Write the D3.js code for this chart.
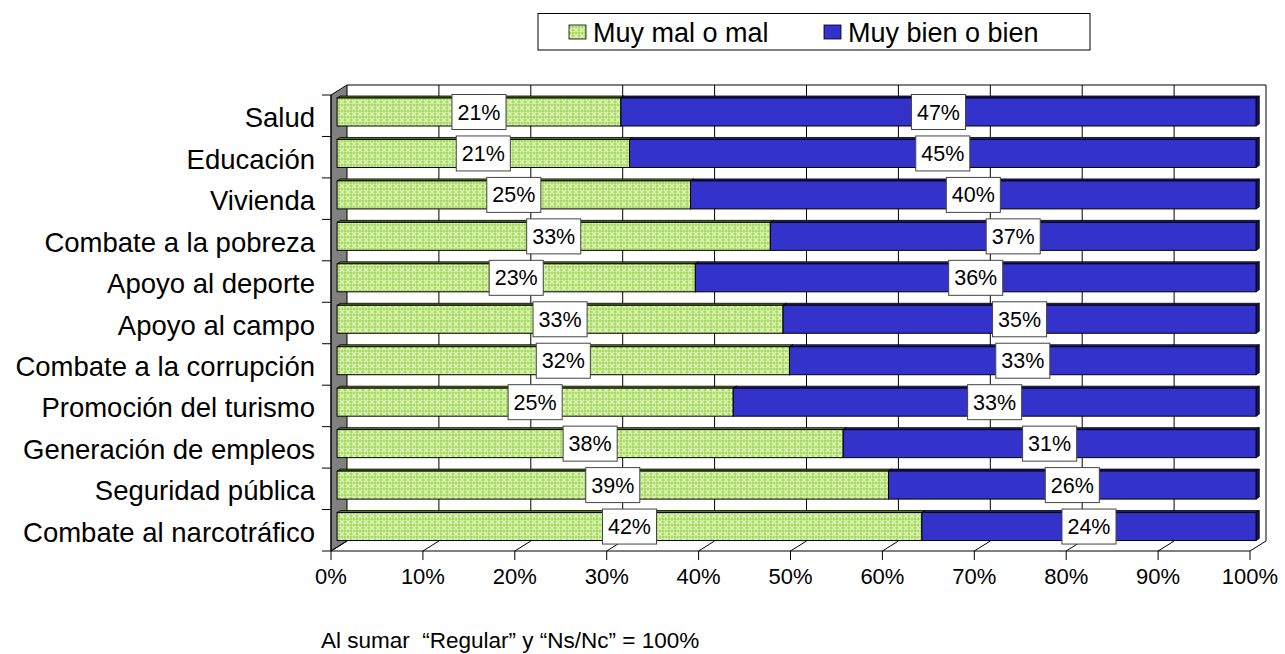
<!DOCTYPE html>
<html><head><meta charset="utf-8">
<script src="https://cdn.jsdelivr.net/npm/d3@7"></script>
<style>
html,body{margin:0;padding:0;background:#fff;}
text{font-family:"Liberation Sans",Arial,sans-serif;fill:#000;}
</style></head>
<body><svg id="c" width="1285" height="654"></svg>
<script>
const categories = ["Salud","Educación","Vivienda","Combate a la pobreza","Apoyo al deporte","Apoyo al campo","Combate a la corrupción","Promoción del turismo","Generación de empleos","Seguridad pública","Combate al narcotráfico"];
const muyMal = [21,21,25,33,23,33,32,25,38,39,42];
const muyBien = [47,45,40,37,36,35,33,33,31,26,24];
const seriesNames = ["Muy mal o mal","Muy bien o bien"];
const xTicks = [0,0.1,0.2,0.3,0.4,0.5,0.6,0.7,0.8,0.9,1];
const note = "Al sumar  “Regular” y “Ns/Nc” = 100%";

const svg = d3.select("#c");
const defs = svg.append("defs");
const pat = defs.append("pattern").attr("id","hatch").attr("patternUnits","userSpaceOnUse").attr("width",6).attr("height",6);
pat.append("rect").attr("width",6).attr("height",6).attr("fill","#abdc5e");
pat.append("path").attr("d","M0,0L6,6M6,0L0,6").attr("stroke","#dff8c6").attr("stroke-width",1.3);
pat.append("circle").attr("cx",3).attr("cy",3).attr("r",0.9).attr("fill","#92c840");

const x = d3.scaleLinear().domain([0,1]).range([331,1250]);
const y = d3.scaleBand().domain(categories).range([95,551]);
const DX = 16, DY = -10;
const front = 0.38, back = 0.58;

const g = svg.append("g");
// left wall
g.append("path").attr("d",`M${x(0)},${y.range()[0]}L${x(0)+DX},${y.range()[0]+DY}L${x(0)+DX},${y.range()[1]+DY}L${x(0)},${y.range()[1]}Z`)
 .attr("fill","#808080").attr("stroke","#000").attr("stroke-width",1);
// back wall outline
g.append("path").attr("d",`M${x(0)+DX},${y.range()[0]+DY}L${x(1)+DX},${y.range()[0]+DY}L${x(1)+DX},${y.range()[1]+DY}`)
 .attr("fill","none").attr("stroke","#000").attr("stroke-width",1);
// gridlines on back wall
g.selectAll(".grid").data(xTicks.slice(1,-1)).enter().append("line")
 .attr("x1",d=>x(d)+DX).attr("x2",d=>x(d)+DX).attr("y1",y.range()[0]+DY).attr("y2",y.range()[1]+DY)
 .attr("stroke","#000").attr("stroke-width",1);
// floor diagonals
g.selectAll(".fd").data(xTicks).enter().append("line")
 .attr("x1",d=>x(d)).attr("x2",d=>x(d)+DX).attr("y1",y.range()[1]).attr("y2",y.range()[1]+DY)
 .attr("stroke","#000").attr("stroke-width",1);
// front x axis
g.append("line").attr("x1",x(0)).attr("x2",x(1)).attr("y1",551).attr("y2",551).attr("stroke","#000");
g.selectAll(".xt").data(xTicks).enter().append("line")
 .attr("x1",d=>x(d)).attr("x2",d=>x(d)).attr("y1",551).attr("y2",560).attr("stroke","#000");
g.selectAll(".xl").data(xTicks).enter().append("text")
 .attr("x",d=>x(d)).attr("y",584).attr("text-anchor","middle").style("font-size","22px")
 .text(d=>Math.round(d*100)+"%");
// y axis
g.append("line").attr("x1",x(0)).attr("x2",x(0)).attr("y1",y.range()[0]).attr("y2",y.range()[1]).attr("stroke","#000");
const yb = categories.map(c=>y(c)).concat([y.range()[1]]);
g.selectAll(".yt").data(yb).enter().append("line")
 .attr("x1",322).attr("x2",x(0)).attr("y1",d=>d).attr("y2",d=>d).attr("stroke","#000");
g.selectAll(".yl").data(categories).enter().append("text")
 .attr("x",315).attr("y",d=>y(d)+y.bandwidth()/2+11.5).attr("text-anchor","end").style("font-size","27.5px")
 .text(d=>d);

// bars
const fx = front*DX, fy = front*DY, bdx = (back-front)*DX, bdy = (back-front)*DY;
const barTop = d => y(d)+3+fy+3.8, barH = 28;
const rows = categories.map((c,i)=>{
  const t = muyMal[i]+muyBien[i];
  return {c, segs:[{v:muyMal[i],p0:0,p1:muyMal[i]/t,k:0},{v:muyBien[i],p0:muyMal[i]/t,p1:1,k:1}]};
});
const fills = ["url(#hatch)","#3333cc"], tops = ["#5b7a1f","#1c1c80"], sides=["#5b7a1f","#14145c"];
rows.forEach(r=>{
  const ty = barTop(r.c);
  r.segs.forEach(s=>{
    const x0 = x(s.p0)+fx, x1 = x(s.p1)+fx;
    g.append("path").attr("d",`M${x0},${ty}L${x0+bdx},${ty+bdy}L${x1+bdx},${ty+bdy}L${x1},${ty}Z`)
     .attr("fill",tops[s.k]).attr("stroke","#000").attr("stroke-width",0.8);
    g.append("path").attr("d",`M${x1},${ty}L${x1+bdx},${ty+bdy}L${x1+bdx},${ty+bdy+barH}L${x1},${ty+barH}Z`)
     .attr("fill",sides[s.k]).attr("stroke","#000").attr("stroke-width",0.8);
    g.append("rect").attr("x",x0).attr("y",ty).attr("width",x1-x0).attr("height",barH)
     .attr("fill",fills[s.k]).attr("stroke","#000").attr("stroke-width",1);
  });
});
// labels
rows.forEach(r=>{
  const ty = barTop(r.c);
  r.segs.forEach(s=>{
    const cx = (x(s.p0)+x(s.p1))/2+fx, cy = ty+barH/2;
    const t = g.append("text").attr("x",cx).attr("y",cy+7.5).attr("text-anchor","middle").style("font-size","21.5px").text(s.v+"%");
    const w = t.node().getComputedTextLength()+11;
    g.insert("rect",()=>t.node()).attr("x",cx-w/2).attr("y",cy-17.5).attr("width",w).attr("height",35)
     .attr("fill","#fff").attr("stroke","#444").attr("stroke-width",1);
  });
});

// legend
const lg = svg.append("g");
lg.append("rect").attr("x",538).attr("y",13.5).attr("width",552).attr("height",36.5).attr("fill","#fff").attr("stroke","#000");
const lx = [569,824];
seriesNames.forEach((n,i)=>{
  lg.append("rect").attr("x",lx[i]).attr("y",25).attr("width",17).attr("height",14).attr("fill",fills[i]).attr("stroke","#000").attr("stroke-width",0.8);
  lg.append("text").attr("x",lx[i]+24).attr("y",42).style("font-size","27px").text(n);
});
// note
svg.append("text").attr("x",321).attr("y",648).style("font-size","22.5px").style("white-space","pre").attr("xml:space","preserve").text(note);
</script></body></html>
